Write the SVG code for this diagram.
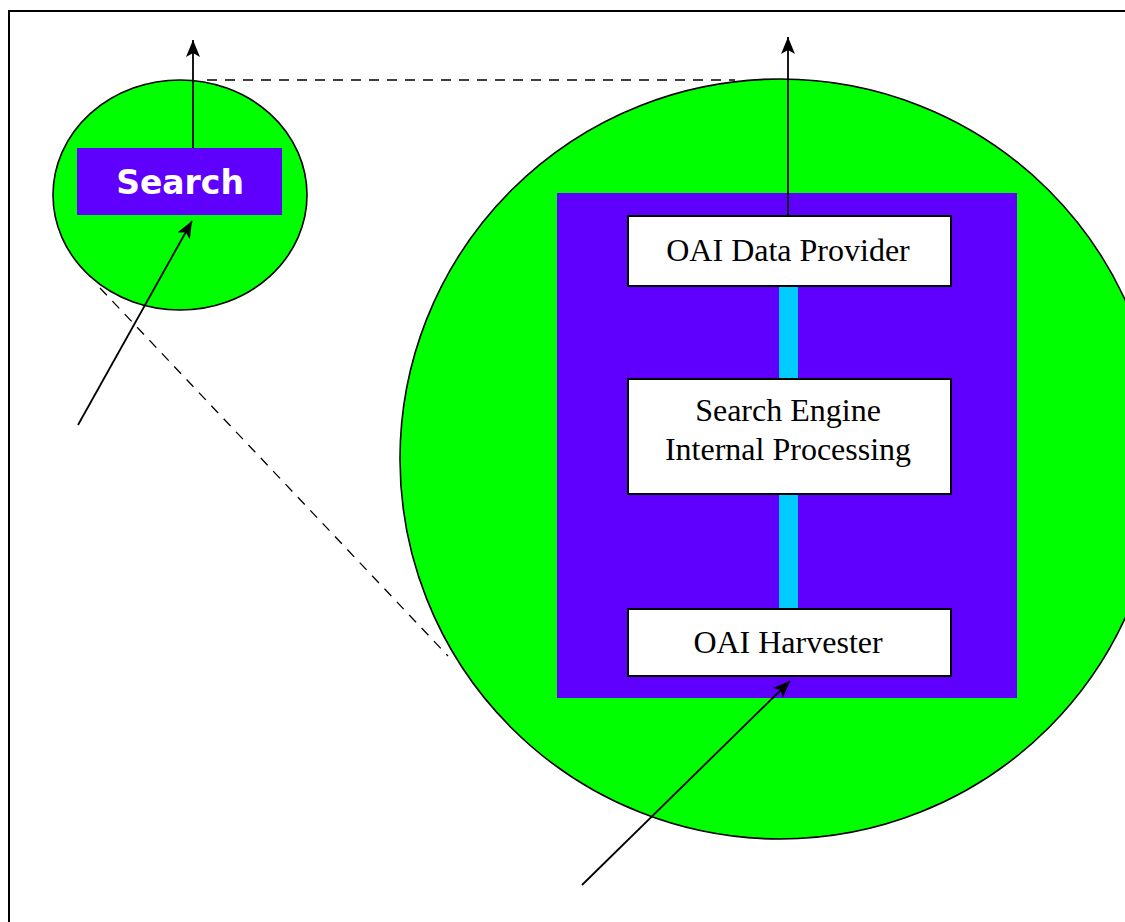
<svg xmlns="http://www.w3.org/2000/svg" width="1125" height="922" viewBox="0 0 1125 922">
  <defs>
    <marker id="arrow" viewBox="0 0 17 14" refX="17" refY="7" markerWidth="17" markerHeight="14" markerUnits="userSpaceOnUse" orient="auto">
      <path d="M0,0 L17,7 L0,14 L4,7 Z" fill="#000"/>
    </marker>
    <style>
      .frame { fill: none; stroke: #000; stroke-width: 2; }
      .zone { fill: #00FF00; stroke: #000; stroke-width: 1.6; }
      .panel { fill: #5F00FF; stroke: none; }
      .box { fill: #fff; stroke: #000; stroke-width: 2; }
      .bus { fill: #00CCFF; }
      .label { font-family: "Liberation Serif", "Times New Roman", serif; font-size: 32px; fill: #000; text-anchor: middle; }
      .title { font-family: "DejaVu Sans", Verdana, sans-serif; font-weight: bold; font-size: 33px; fill: #fff; text-anchor: middle; }
      .flow { stroke: #000; stroke-width: 1.8; fill: none; marker-end: url(#arrow); }
      .guide { stroke: #000; stroke-width: 1.3; fill: none; stroke-dasharray: 10 8; }
    </style>
  </defs>

  <rect width="1125" height="922" fill="#fff"/>
  <!-- outer frame, open to the right and bottom -->
  <rect class="frame" x="9" y="11" width="1130" height="930"/>

  <!-- small search site -->
  <g id="search-site">
    <ellipse class="zone" cx="180" cy="195" rx="127" ry="115"/>
    <g id="search">
      <rect class="panel" x="77" y="148" width="205" height="67"/>
      <text class="title" x="180" y="194">Search</text>
    </g>
  </g>

  <!-- enlarged search engine -->
  <g id="search-engine">
    <circle class="zone" cx="780" cy="459" r="380"/>
    <rect class="panel" x="557" y="193" width="460" height="505"/>
    <rect class="bus" x="779" y="286" width="19" height="93"/>
    <rect class="bus" x="779" y="494" width="19" height="115"/>
  </g>

  <g id="oai-data-provider">
    <rect class="box" x="628" y="216" width="323" height="70"/>
    <text class="label" x="788" y="261">OAI Data Provider</text>
  </g>

  <g id="internal-processing">
    <rect class="box" x="628" y="379" width="323" height="115"/>
    <text class="label" x="788" y="421">Search Engine</text>
    <text class="label" x="788" y="460">Internal Processing</text>
  </g>

  <g id="oai-harvester">
    <rect class="box" x="628" y="609" width="323" height="67"/>
    <text class="label" x="788" y="653">OAI Harvester</text>
  </g>

  <!-- connectors -->
  <g id="connectors">
    <line class="guide" x1="207" y1="80" x2="735" y2="80"/>
    <line class="guide" x1="100" y1="288" x2="448" y2="656"/>
    <line class="flow" x1="193" y1="148" x2="193" y2="40"/>
    <line class="flow" x1="78" y1="425" x2="192" y2="221"/>
    <line class="flow" x1="788" y1="216" x2="788" y2="37"/>
    <line class="flow" x1="582" y1="885" x2="790" y2="681"/>
  </g>
</svg>
